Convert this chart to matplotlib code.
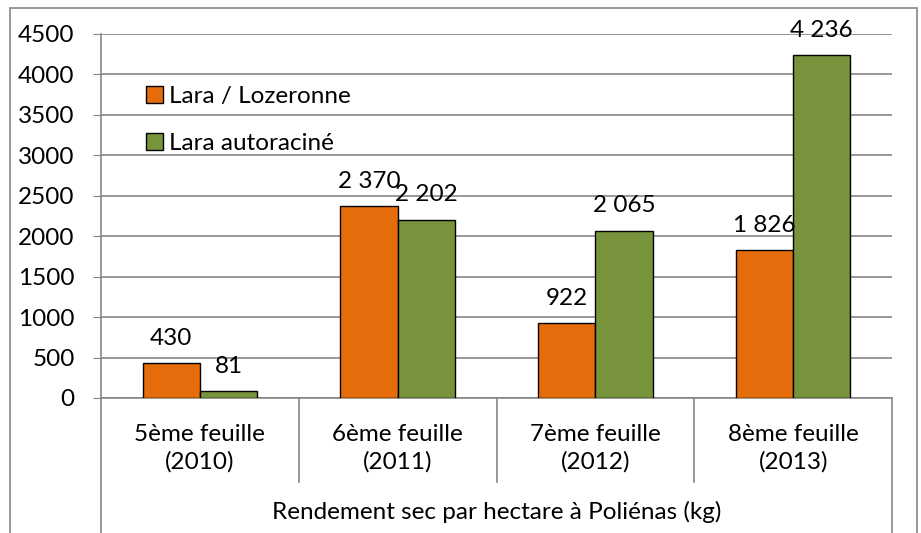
import numpy as np
import matplotlib.pyplot as plt
from matplotlib.patches import Rectangle

categories = ["5ème feuille\n(2010)", "6ème feuille\n(2011)", "7ème feuille\n(2012)", "8ème feuille\n(2013)"]
lara_lozeronne = [430, 2370, 922, 1826]
lara_autoracine = [81, 2202, 2065, 4236]
series_names = ["Lara / Lozeronne", "Lara autoraciné"]
bottom_title = "Rendement sec par hectare à Poliénas (kg)"
yticks = np.arange(0, 4501, 500)

plt.rcParams['font.family'] = ['Lato', 'DejaVu Sans']
FS = 17.5
GRID = '#868686'

fig = plt.figure(figsize=(9.21, 5.33), dpi=100)
W, H = 921, 533
ax = fig.add_axes([101 / W, (H - 398) / H, (892 - 101) / W, (398 - 34) / H])

# outer chart border
fig.patches.append(Rectangle((10 / W, -0.1), (917 - 10) / W, (H - 8) / H + 0.1,
                             transform=fig.transFigure, fill=False,
                             edgecolor=GRID, linewidth=1.2))

x = np.arange(len(categories))
w = 0.29
b1 = ax.bar(x - w / 2, lara_lozeronne, w, color='#E46C0A', edgecolor='black',
            linewidth=1, label=series_names[0], zorder=3)
b2 = ax.bar(x + w / 2, lara_autoracine, w, color='#77933C', edgecolor='black',
            linewidth=1, label=series_names[1], zorder=3)

def fmt(v):
    return f"{v:,}".replace(",", " ")

for bars, vals in ((b1, lara_lozeronne), (b2, lara_autoracine)):
    for r, v in zip(bars, vals):
        ax.annotate(fmt(v), (r.get_x() + r.get_width() / 2, v), xytext=(0, 18),
                    textcoords='offset points', ha='center', va='center',
                    fontsize=FS, zorder=4)

ax.set_xlim(-0.5, len(categories) - 0.5)
ax.set_ylim(0, 4500)
ax.set_yticks(yticks)
ax.tick_params(axis='y', labelsize=FS, length=6, color=GRID, pad=13)
ax.set_xticks([])
ax.yaxis.grid(True, color=GRID, linewidth=1.2, zorder=0)
for s in ('top', 'right'):
    ax.spines[s].set_visible(False)
for s in ('left', 'bottom'):
    ax.spines[s].set_color(GRID)
    ax.spines[s].set_linewidth(1.2)

# multi-level category axis
tr = ax.get_xaxis_transform()
for i, c in enumerate(categories):
    ax.text(i, -0.137, c, transform=tr, ha='center', va='center',
            fontsize=FS, linespacing=1.35)
for edge in np.arange(0.5, len(categories) - 0.5, 1):
    ax.plot([edge, edge], [0, -0.231], transform=tr, color=GRID, lw=1.2, clip_on=False)
for edge in (-0.5, len(categories) - 0.5):
    ax.plot([edge, edge], [0, -0.5], transform=tr, color=GRID, lw=1.2, clip_on=False)
ax.text((len(categories) - 1) / 2, -0.313, bottom_title, transform=tr,
        ha='center', va='center', fontsize=FS)

ax.legend(loc='upper left', bbox_to_anchor=(0.044, 0.885), frameon=False,
          fontsize=FS, handlelength=0.7, handleheight=0.7, handletextpad=0.25,
          labelspacing=1.1, borderaxespad=0)

fig.savefig('out.png', dpi=100)
